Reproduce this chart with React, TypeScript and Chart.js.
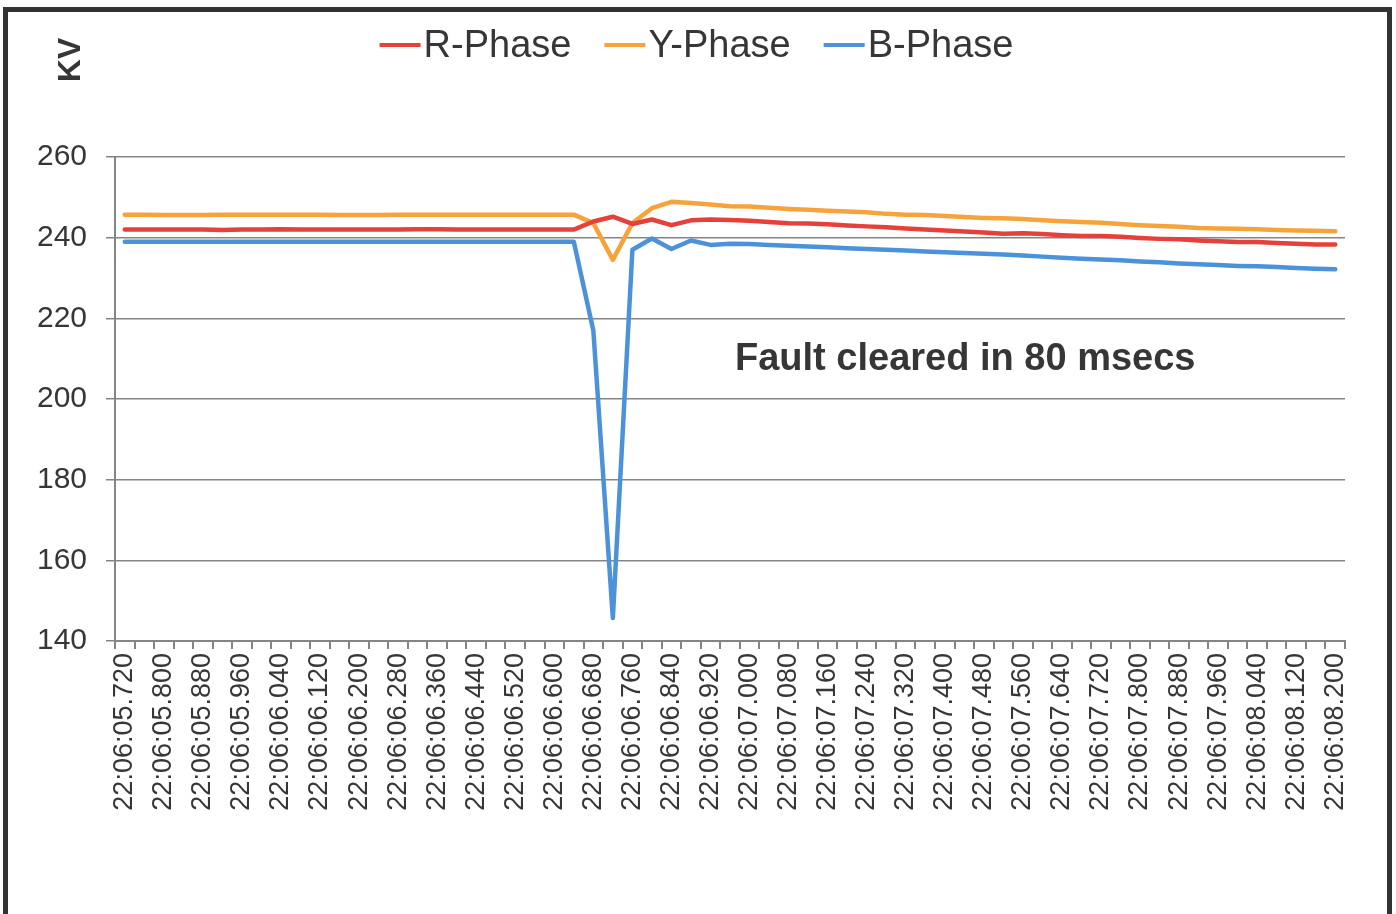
import { useEffect, useRef } from "react";
import { Chart, registerables } from "chart.js";

Chart.register(...registerables);

const timeLabels: string[] = [
  "22:06:05.720", "22:06:05.760", "22:06:05.800", "22:06:05.840", "22:06:05.880", "22:06:05.920",
  "22:06:05.960", "22:06:06.000", "22:06:06.040", "22:06:06.080", "22:06:06.120", "22:06:06.160",
  "22:06:06.200", "22:06:06.240", "22:06:06.280", "22:06:06.320", "22:06:06.360", "22:06:06.400",
  "22:06:06.440", "22:06:06.480", "22:06:06.520", "22:06:06.560", "22:06:06.600", "22:06:06.640",
  "22:06:06.680", "22:06:06.720", "22:06:06.760", "22:06:06.800", "22:06:06.840", "22:06:06.880",
  "22:06:06.920", "22:06:06.960", "22:06:07.000", "22:06:07.040", "22:06:07.080", "22:06:07.120",
  "22:06:07.160", "22:06:07.200", "22:06:07.240", "22:06:07.280", "22:06:07.320", "22:06:07.360",
  "22:06:07.400", "22:06:07.440", "22:06:07.480", "22:06:07.520", "22:06:07.560", "22:06:07.600",
  "22:06:07.640", "22:06:07.680", "22:06:07.720", "22:06:07.760", "22:06:07.800", "22:06:07.840",
  "22:06:07.880", "22:06:07.920", "22:06:07.960", "22:06:08.000", "22:06:08.040", "22:06:08.080",
  "22:06:08.120", "22:06:08.160", "22:06:08.200",
];

const rPhase: number[] = [
  242.0, 242.0, 242.0, 242.0, 242.0, 241.9, 242.0, 242.0, 242.1, 242.0, 242.0, 242.0,
  242.0, 242.0, 242.0, 242.1, 242.1, 242.0, 242.0, 242.0, 242.0, 242.0, 242.0, 242.0,
  244.0, 245.2, 243.4, 244.5, 243.1, 244.3, 244.5, 244.4, 244.2, 243.9, 243.6, 243.5,
  243.3, 243.0, 242.8, 242.6, 242.3, 242.0, 241.8, 241.5, 241.3, 241.0, 241.1, 240.9,
  240.6, 240.4, 240.4, 240.2, 239.9, 239.7, 239.6, 239.3, 239.1, 238.9, 238.9, 238.7,
  238.5, 238.3, 238.3,
];

const yPhase: number[] = [
  245.7, 245.7, 245.6, 245.6, 245.6, 245.7, 245.7, 245.7, 245.7, 245.7, 245.7, 245.6,
  245.6, 245.6, 245.7, 245.7, 245.7, 245.7, 245.7, 245.7, 245.7, 245.7, 245.7, 245.7,
  243.6, 234.5, 243.6, 247.3, 248.9, 248.6, 248.2, 247.8, 247.7, 247.4, 247.1, 246.9,
  246.7, 246.5, 246.3, 245.9, 245.7, 245.6, 245.4, 245.1, 244.9, 244.8, 244.6, 244.3,
  244.1, 243.9, 243.7, 243.4, 243.1, 242.9, 242.7, 242.4, 242.3, 242.2, 242.1, 241.9,
  241.8, 241.7, 241.6,
];

const bPhase: number[] = [
  239.0, 239.0, 239.0, 239.0, 239.0, 239.0, 239.0, 239.0, 239.0, 239.0, 239.0, 239.0,
  239.0, 239.0, 239.0, 239.0, 239.0, 239.0, 239.0, 239.0, 239.0, 239.0, 239.0, 239.0,
  217.0, 145.7, 237.0, 239.8, 237.2, 239.3, 238.2, 238.5, 238.4, 238.2, 238.0, 237.8,
  237.6, 237.4, 237.2, 237.0, 236.8, 236.6, 236.4, 236.2, 236.0, 235.8, 235.6, 235.3,
  235.0, 234.8, 234.6, 234.4, 234.1, 233.9, 233.6, 233.4, 233.2, 233.0, 232.9, 232.7,
  232.5, 232.3, 232.2,
];

const seriesNames: string[] = ["R-Phase", "Y-Phase", "B-Phase"];
const seriesColors: string[] = ["#e5403a", "#f6a33c", "#4b92da"];
const yTicks: number[] = [140, 160, 180, 200, 220, 240, 260];
const axisTitle = "KV";
const noteText = "Fault cleared in 80 msecs";

const FONT = "'Liberation Sans', Arial, Helvetica, sans-serif";
const TEXT = "#363636";
const GRID = "#858585";

export default function App() {
  const canvasRef = useRef<HTMLCanvasElement | null>(null);

  useEffect(() => {
    document.body.style.margin = "0";
    const canvas = canvasRef.current;
    if (!canvas) return;

    const decor = {
      id: "decor",
      beforeDraw(chart: any) {
        const ctx = chart.ctx;
        ctx.save();
        ctx.fillStyle = "#ffffff";
        ctx.fillRect(0, 0, chart.width, chart.height);
        ctx.strokeStyle = "#333333";
        ctx.lineWidth = 5;
        ctx.beginPath();
        ctx.moveTo(5.5, chart.height + 5);
        ctx.lineTo(5.5, 9.5);
        ctx.lineTo(1389.5, 9.5);
        ctx.lineTo(1389.5, chart.height + 5);
        ctx.stroke();
        ctx.restore();
      },
      afterDraw(chart: any) {
        const ctx = chart.ctx;
        ctx.save();
        // Legend
        ctx.font = `38px ${FONT}`;
        const lineLen = 41;
        const gapLineText = 3;
        const gapItems = 33;
        const widths = seriesNames.map((n) => ctx.measureText(n).width);
        let total = 0;
        widths.forEach((w, i) => {
          total += lineLen + gapLineText + w + (i < widths.length - 1 ? gapItems : 0);
        });
        let x = 696.5 - total / 2;
        const ly = 45;
        seriesNames.forEach((n, i) => {
          ctx.strokeStyle = seriesColors[i];
          ctx.lineWidth = 4;
          ctx.beginPath();
          ctx.moveTo(x, ly);
          ctx.lineTo(x + lineLen, ly);
          ctx.stroke();
          ctx.fillStyle = TEXT;
          ctx.textAlign = "left";
          ctx.textBaseline = "alphabetic";
          ctx.fillText(n, x + lineLen + gapLineText, 57);
          x += lineLen + gapLineText + widths[i] + gapItems;
        });
        // Axis title KV
        ctx.save();
        ctx.translate(80, 60);
        ctx.rotate(-Math.PI / 2);
        ctx.font = `bold 32px ${FONT}`;
        ctx.fillStyle = TEXT;
        ctx.textAlign = "center";
        ctx.textBaseline = "alphabetic";
        ctx.fillText(axisTitle, 0, 0);
        ctx.restore();
        // Annotation
        ctx.font = `bold 38px ${FONT}`;
        ctx.fillStyle = TEXT;
        ctx.textAlign = "left";
        ctx.textBaseline = "alphabetic";
        ctx.fillText(noteText, 735, 370);
        ctx.restore();
      },
    };

    const chart = new Chart(canvas, {
      type: "line",
      data: {
        labels: timeLabels,
        datasets: [rPhase, yPhase, bPhase].map((d, i) => ({
          label: seriesNames[i],
          data: d,
          borderColor: seriesColors[i],
          backgroundColor: seriesColors[i],
          borderWidth: 4.5,
          pointRadius: 0,
          tension: 0,
          fill: false,
          borderJoinStyle: "round" as const,
          borderCapStyle: "round" as const,
        })),
      },
      options: {
        responsive: false,
        animation: false,
        layout: { padding: { top: 157, right: 51, left: 0, bottom: 0 } },
        plugins: {
          legend: { display: false },
          tooltip: { enabled: false },
          title: { display: false },
        },
        scales: {
          x: {
            type: "category",
            offset: true,
            afterFit: (scale: any) => {
              scale.height = 273;
            },
            grid: {
              offset: true,
              drawOnChartArea: false,
              drawTicks: true,
              tickLength: 8,
              color: GRID,
              lineWidth: 2,
            },
            border: { display: true, color: GRID, width: 2 },
            ticks: {
              autoSkip: false,
              minRotation: 90,
              maxRotation: 90,
              padding: 4,
              color: TEXT,
              font: { family: FONT, size: 27 },
              callback: function (this: any, val: any, index: number) {
                return index % 2 === 0 ? this.getLabelForValue(val) : "";
              },
            },
          },
          y: {
            min: yTicks[0],
            max: yTicks[yTicks.length - 1],
            afterFit: (scale: any) => {
              scale.width = 115;
            },
            afterBuildTicks: (scale: any) => {
              scale.ticks = yTicks.map((v) => ({ value: v }));
            },
            grid: {
              color: GRID,
              lineWidth: 1.5,
              drawTicks: true,
              tickLength: 9,
            },
            border: { display: true, color: GRID, width: 2 },
            ticks: {
              padding: 19,
              color: TEXT,
              font: { family: FONT, size: 30 },
            },
          },
        },
      },
      plugins: [decor],
    });

    return () => chart.destroy();
  }, []);

  return (
    <div style={{ position: "absolute", left: 0, top: 0, width: 1396, height: 914 }}>
      <canvas ref={canvasRef} width={1396} height={914} style={{ width: 1396, height: 914 }} />
    </div>
  );
}
